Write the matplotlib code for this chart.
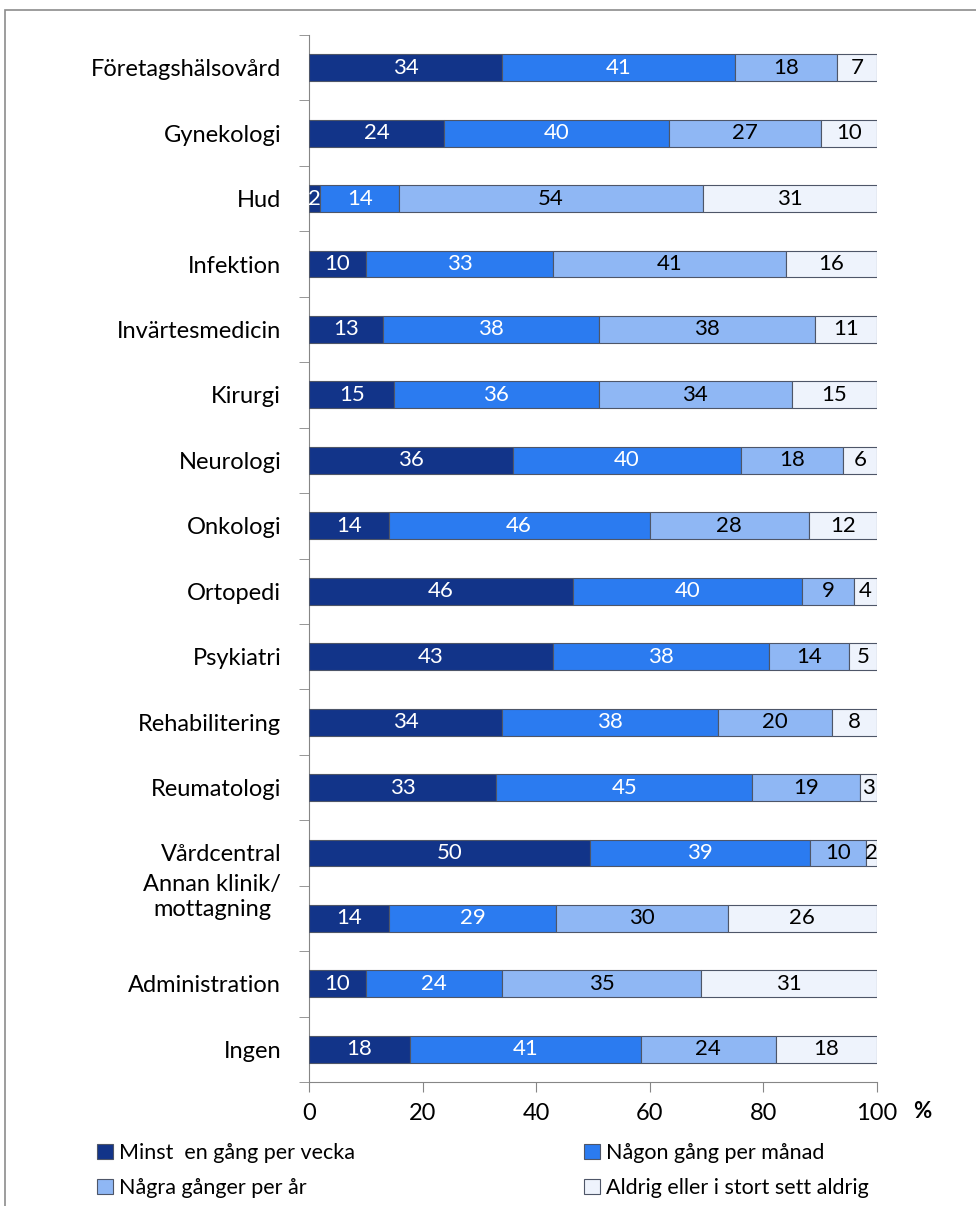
import matplotlib.pyplot as plt
from matplotlib.patches import Rectangle, Patch
from matplotlib.transforms import ScaledTranslation
import numpy as np

plt.rcParams['font.family'] = ['Lato', 'DejaVu Sans']

# kategorier uppifrån och ned
categories = ["Företagshälsovård", "Gynekologi", "Hud", "Infektion",
              "Invärtesmedicin", "Kirurgi", "Neurologi", "Onkologi",
              "Ortopedi", "Psykiatri", "Rehabilitering", "Reumatologi",
              "Vårdcentral", "Annan klinik/\nmottagning", "Administration", "Ingen"]

series_names = ["Minst  en gång per vecka", "Någon gång per månad",
                "Några gånger per år", "Aldrig eller i stort sett aldrig"]

weekly = [34, 24, 2, 10, 13, 15, 36, 14, 46, 43, 34, 33, 50, 14, 10, 18]
monthly = [41, 40, 14, 33, 38, 36, 40, 46, 40, 38, 38, 45, 39, 29, 24, 41]
yearly = [18, 27, 54, 41, 38, 34, 18, 28, 9, 14, 20, 19, 10, 30, 35, 24]
never = [7, 10, 31, 16, 11, 15, 6, 12, 4, 5, 8, 3, 2, 26, 31, 18]

colors = ["#123489", "#2b7bf0", "#8fb7f4", "#eef3fc"]
text_colors = ["white", "white", "black", "black"]

data = np.array([weekly, monthly, yearly, never], dtype=float)
share = data / data.sum(axis=0) * 100

fig = plt.figure(figsize=(9.76, 12.06), dpi=100)
ax = fig.add_axes([309 / 976, 1 - 1082 / 1206, 568 / 976, 1047 / 1206])

y = np.arange(len(categories))
left = np.zeros(len(categories))
for i in range(4):
    bars = ax.barh(y, share[i], left=left, height=0.41, color=colors[i],
                   edgecolor="#4e5668", linewidth=0.8, zorder=3)
    ax.bar_label(bars, labels=[str(int(v)) for v in data[i]], label_type="center",
                 color=text_colors[i], fontsize=16)
    left += share[i]

ax.set_ylim(len(categories) - 0.5, -0.5)
ax.set_xlim(0, 100)
ax.set_yticks(y)
ax.set_yticklabels(categories, fontsize=17)
ax.set_yticks(np.arange(-0.5, len(categories)), minor=True)
ax.tick_params(axis="y", which="major", length=0, pad=20)
ax.tick_params(axis="y", which="minor", length=7, color="#868686", direction="out")
ax.set_xticks([0, 20, 40, 60, 80, 100])
ax.tick_params(axis="x", labelsize=17, length=7, color="#868686", pad=8)
for s in ["top", "right"]:
    ax.spines[s].set_visible(False)
for s in ["left", "bottom"]:
    ax.spines[s].set_color("#868686")

for lab in ax.get_yticklabels():
    lab.set_multialignment("center")
    if "\n" in lab.get_text():
        # tvåradig etikett sitter lite ovanför stapeln
        lab.set_transform(lab.get_transform() + ScaledTranslation(0, 0.25, fig.dpi_scale_trans))

fig.text(922 / 976, 1 - 1111 / 1206, "%", fontsize=16, fontweight="bold",
         ha="center", va="center")

# ram runt diagrammet
fig.patches.append(Rectangle((5 / 976, -0.1), 1.2, 1.1 - 10 / 1206,
                             transform=fig.transFigure, fill=False,
                             edgecolor="#8c8c8c", linewidth=1.2))

handles = [Patch(facecolor=c, edgecolor="#4e5668", linewidth=0.8) for c in colors]
leg_kw = dict(loc="upper left", frameon=False, fontsize=15.5, handlelength=0.75,
              handleheight=0.75, handletextpad=0.25, labelspacing=0.7, borderpad=0,
              borderaxespad=0)
fig.legend([handles[0], handles[2]], [series_names[0], series_names[2]],
           bbox_to_anchor=(97 / 976, 1 - 1143 / 1206), **leg_kw)
fig.legend([handles[1], handles[3]], [series_names[1], series_names[3]],
           bbox_to_anchor=(584 / 976, 1 - 1143 / 1206), **leg_kw)

fig.savefig("out.png", dpi=100)
